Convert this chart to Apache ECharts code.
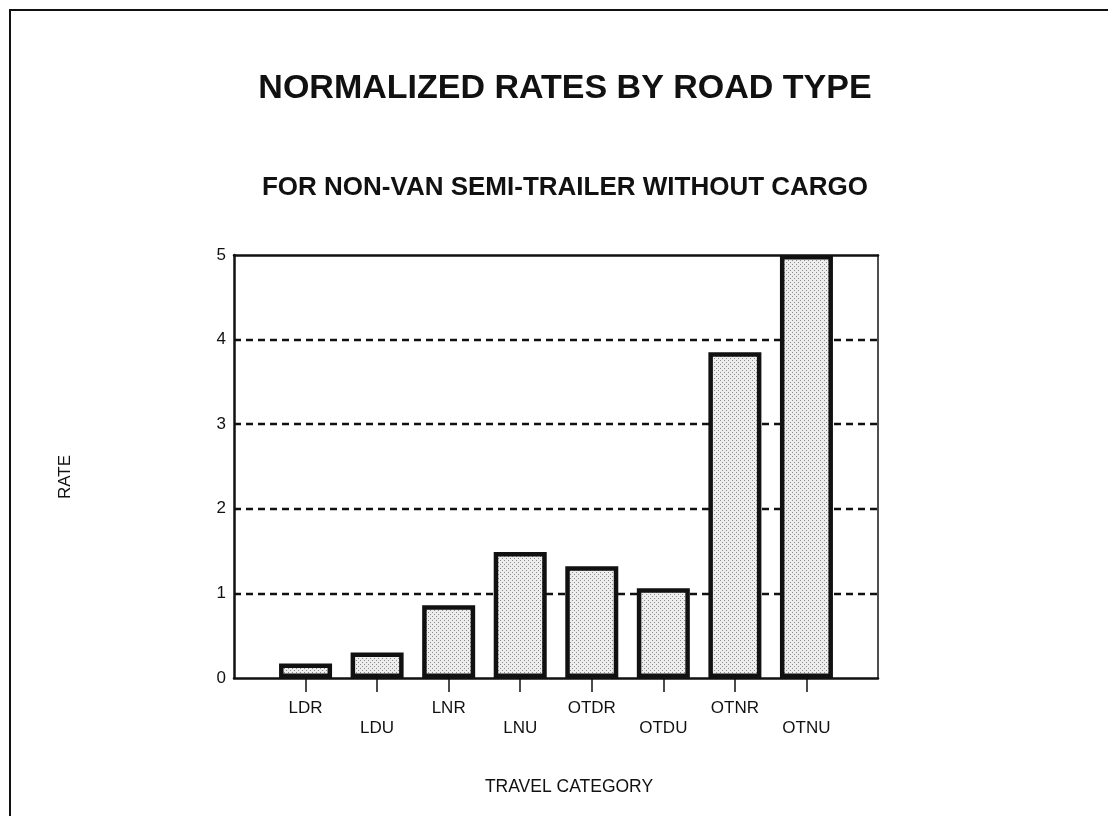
<!DOCTYPE html>
<html>
<head>
<meta charset="utf-8">
<title>Normalized Rates by Road Type</title>
<script src="https://cdn.jsdelivr.net/npm/echarts@6/dist/echarts.min.js"></script>
<style>
  html, body { margin: 0; padding: 0; background: #fff; }
  #chart { width: 1108px; height: 816px; }
</style>
</head>
<body>
<div id="chart"></div>
<script>
// Travel categories (placed at positions 1..8 on the x scale)
const categories = ['LDR', 'LDU', 'LNR', 'LNU', 'OTDR', 'OTDU', 'OTNR', 'OTNU'];
// Normalized rate for each category
const rates = [0.17, 0.30, 0.86, 1.49, 1.32, 1.06, 3.85, 5.0];
// Y axis tick values
const yTicks = [0, 1, 2, 3, 4, 5];

const FONT = '"Liberation Sans", Arial, Helvetica, sans-serif';
const INK = '#111';

// Stippled grey fill used for the bars
function stipple() {
  const c = document.createElement('canvas');
  c.width = 4; c.height = 4;
  const g = c.getContext('2d');
  g.fillStyle = '#ededed';
  g.fillRect(0, 0, 4, 4);
  g.fillStyle = '#8a8a8a';
  g.fillRect(0, 0, 1, 1);
  g.fillRect(2, 2, 1, 1);
  return c;
}

const positions = categories.map((_, i) => i + 1);
const barData = categories.map((_, i) => [positions[i], rates[i]]);

const chart = echarts.init(document.getElementById('chart'), null, { renderer: 'canvas' });

chart.setOption({
  animation: false,
  backgroundColor: '#fff',
  grid: { left: 234, right: 230, top: 255, bottom: 138, containLabel: false },
  xAxis: [
    {
      type: 'value',
      min: 0, max: categories.length + 1, interval: 1,
      position: 'bottom',
      axisLine: { show: true, onZero: false, lineStyle: { color: INK, width: 2.5 } },
      axisTick: { show: true, length: 14, customValues: positions, lineStyle: { color: INK, width: 1.5 } },
      axisLabel: {
        show: true,
        customValues: positions,
        margin: 20,
        fontFamily: FONT, fontSize: 17, color: INK, lineHeight: 20,
        formatter: (v) => {
          const i = Math.round(v) - 1;
          const name = categories[i] || '';
          return i % 2 === 1 ? '\n' + name : name;
        }
      },
      splitLine: { show: false }
    },
    {
      type: 'value',
      min: 0, max: categories.length + 1,
      position: 'top',
      axisLine: { show: true, onZero: false, lineStyle: { color: INK, width: 2.5 } },
      axisTick: { show: false },
      axisLabel: { show: false },
      splitLine: { show: false }
    }
  ],
  yAxis: [
    {
      type: 'value',
      min: yTicks[0], max: yTicks[yTicks.length - 1], interval: 1,
      position: 'left',
      axisLine: { show: true, onZero: false, lineStyle: { color: INK, width: 2.5 } },
      axisTick: { show: false },
      axisLabel: { margin: 8, fontFamily: FONT, fontSize: 17, color: INK },
      splitLine: {
        show: true, showMinLine: false, showMaxLine: false,
        lineStyle: { color: INK, width: 2.4, type: [7, 5] }
      }
    },
    {
      type: 'value',
      min: yTicks[0], max: yTicks[yTicks.length - 1],
      position: 'right',
      axisLine: { show: true, onZero: false, lineStyle: { color: '#222', width: 1.6 } },
      axisTick: { show: false },
      axisLabel: { show: false },
      splitLine: { show: false }
    }
  ],
  series: [
    {
      type: 'bar',
      xAxisIndex: 0,
      yAxisIndex: 0,
      data: barData,
      barWidth: 53,
      clip: false,
      itemStyle: {
        color: { image: stipple(), repeat: 'repeat' },
        borderColor: INK,
        borderWidth: 4.5
      }
    }
  ],
  graphic: [
    {
      type: 'rect',
      shape: { x: 10, y: 10, width: 1120, height: 840 },
      style: { fill: null, stroke: INK, lineWidth: 2 },
      silent: true
    },
    {
      type: 'text', x: 565, y: 89,
      style: {
        text: 'NORMALIZED RATES BY ROAD TYPE',
        font: 'bold 34px ' + FONT, fill: INK,
        textAlign: 'center', textVerticalAlign: 'middle'
      }
    },
    {
      type: 'text', x: 565, y: 188,
      style: {
        text: 'FOR NON-VAN SEMI-TRAILER WITHOUT CARGO',
        font: 'bold 26px ' + FONT, fill: INK,
        textAlign: 'center', textVerticalAlign: 'middle'
      }
    },
    {
      type: 'text', x: 65, y: 477, rotation: Math.PI / 2,
      style: {
        text: 'RATE',
        font: '17px ' + FONT, fill: INK,
        textAlign: 'center', textVerticalAlign: 'middle'
      }
    },
    {
      type: 'text', x: 569, y: 787,
      style: {
        text: 'TRAVEL CATEGORY',
        font: '17.5px ' + FONT, fill: INK,
        textAlign: 'center', textVerticalAlign: 'middle'
      }
    }
  ]
});
</script>
</body>
</html>
